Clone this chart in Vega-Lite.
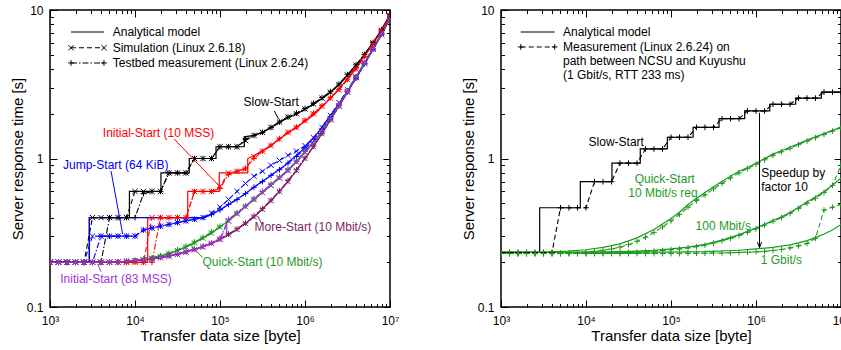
{
"$schema":"https://vega.github.io/schema/vega-lite/v6.json",
"padding":{"left":9,"top":3,"right":0,"bottom":0},
"spacing":60,
"config":{"view":{"stroke":"#000","strokeWidth":1.5},"font":"Liberation Sans",
"axis":{"grid":false,"domain":false,"tickColor":"#000","labelColor":"#000","titleColor":"#000","labelFont":"Liberation Sans","titleFont":"Liberation Sans","titleFontWeight":"normal","tickWidth":1,"labelFontSize":12,"titleFontSize":15}},
"datasets":{
"m":[
{"p":"L","s":"SS","x":1000,"y":0.2},{"p":"L","s":"SS","x":2900,"y":0.2},{"p":"L","s":"SS","x":2901,"y":0.4},{"p":"L","s":"SS","x":8600,"y":0.4},{"p":"L","s":"SS","x":8601,"y":0.6},{"p":"L","s":"SS","x":20200,"y":0.6},{"p":"L","s":"SS","x":20201,"y":0.8},{"p":"L","s":"SS","x":43500,"y":0.8},{"p":"L","s":"SS","x":43501,"y":1.0},{"p":"L","s":"SS","x":89800,"y":1.0},{"p":"L","s":"SS","x":89801,"y":1.2},{"p":"L","s":"SS","x":193000,"y":1.2},{"p":"L","s":"SS","x":193001,"y":1.4},{"p":"L","s":"SS","x":250000,"y":1.43},{"p":"L","s":"SS","x":316000,"y":1.5},{"p":"L","s":"SS","x":398000,"y":1.61},{"p":"L","s":"SS","x":476000,"y":1.72},{"p":"L","s":"SS","x":630000,"y":1.88},{"p":"L","s":"SS","x":800000,"y":2.0},{"p":"L","s":"SS","x":1000000,"y":2.14},{"p":"L","s":"SS","x":1260000,"y":2.32},{"p":"L","s":"SS","x":1580000,"y":2.53},{"p":"L","s":"SS","x":1850000,"y":2.7},{"p":"L","s":"SS","x":2500000,"y":3.12},{"p":"L","s":"SS","x":3180000,"y":3.65},{"p":"L","s":"SS","x":4000000,"y":4.22},{"p":"L","s":"SS","x":5000000,"y":5.0},{"p":"L","s":"SS","x":6300000,"y":6.0},{"p":"L","s":"SS","x":7800000,"y":7.2},{"p":"L","s":"SS","x":10000000,"y":9.3},
{"p":"L","s":"IS10","x":1000,"y":0.2},{"p":"L","s":"IS10","x":14100,"y":0.2},{"p":"L","s":"IS10","x":14101,"y":0.4},{"p":"L","s":"IS10","x":41700,"y":0.4},{"p":"L","s":"IS10","x":41701,"y":0.6},{"p":"L","s":"IS10","x":98000,"y":0.6},{"p":"L","s":"IS10","x":98001,"y":0.8},{"p":"L","s":"IS10","x":212000,"y":0.8},{"p":"L","s":"IS10","x":212001,"y":1.0},{"p":"L","s":"IS10","x":260000,"y":1.06},{"p":"L","s":"IS10","x":364000,"y":1.18},{"p":"L","s":"IS10","x":570000,"y":1.43},{"p":"L","s":"IS10","x":900000,"y":1.7},{"p":"L","s":"IS10","x":1290000,"y":1.98},{"p":"L","s":"IS10","x":2020000,"y":2.56},{"p":"L","s":"IS10","x":2900000,"y":3.24},{"p":"L","s":"IS10","x":4560000,"y":4.6},{"p":"L","s":"IS10","x":7200000,"y":6.68},{"p":"L","s":"IS10","x":10000000,"y":9.2},
{"p":"L","s":"JS","x":1000,"y":0.2},{"p":"L","s":"JS","x":2900,"y":0.2},{"p":"L","s":"JS","x":2901,"y":0.4},{"p":"L","s":"JS","x":65500,"y":0.4},{"p":"L","s":"JS","x":80000,"y":0.42},{"p":"L","s":"JS","x":94000,"y":0.443},{"p":"L","s":"JS","x":120000,"y":0.48},{"p":"L","s":"JS","x":147000,"y":0.518},{"p":"L","s":"JS","x":200000,"y":0.58},{"p":"L","s":"JS","x":232000,"y":0.62},{"p":"L","s":"JS","x":300000,"y":0.69},{"p":"L","s":"JS","x":364000,"y":0.743},{"p":"L","s":"JS","x":450000,"y":0.81},{"p":"L","s":"JS","x":570000,"y":0.89},{"p":"L","s":"JS","x":700000,"y":0.99},{"p":"L","s":"JS","x":900000,"y":1.12},{"p":"L","s":"JS","x":1100000,"y":1.27},{"p":"L","s":"JS","x":1410000,"y":1.49},{"p":"L","s":"JS","x":1850000,"y":1.84},{"p":"L","s":"JS","x":2500000,"y":2.33},{"p":"L","s":"JS","x":3200000,"y":2.85},{"p":"L","s":"JS","x":4000000,"y":3.5},{"p":"L","s":"JS","x":5000000,"y":4.3},{"p":"L","s":"JS","x":6300000,"y":5.4},{"p":"L","s":"JS","x":7900000,"y":6.8},{"p":"L","s":"JS","x":10000000,"y":8.8},
{"p":"L","s":"QS","x":1000,"y":0.2},{"p":"L","s":"QS","x":6310,"y":0.2},{"p":"L","s":"QS","x":10000,"y":0.205},{"p":"L","s":"QS","x":15849,"y":0.213},{"p":"L","s":"QS","x":25119,"y":0.228},{"p":"L","s":"QS","x":39811,"y":0.253},{"p":"L","s":"QS","x":63096,"y":0.29},{"p":"L","s":"QS","x":79433,"y":0.315},{"p":"L","s":"QS","x":100000,"y":0.345},{"p":"L","s":"QS","x":125893,"y":0.38},{"p":"L","s":"QS","x":158489,"y":0.425},{"p":"L","s":"QS","x":199526,"y":0.475},{"p":"L","s":"QS","x":251189,"y":0.53},{"p":"L","s":"QS","x":316228,"y":0.59},{"p":"L","s":"QS","x":398107,"y":0.66},{"p":"L","s":"QS","x":501187,"y":0.74},{"p":"L","s":"QS","x":630957,"y":0.83},{"p":"L","s":"QS","x":794328,"y":0.95},{"p":"L","s":"QS","x":1000000,"y":1.1},{"p":"L","s":"QS","x":1258925,"y":1.28},{"p":"L","s":"QS","x":1584893,"y":1.52},{"p":"L","s":"QS","x":1995262,"y":1.85},{"p":"L","s":"QS","x":2511886,"y":2.27},{"p":"L","s":"QS","x":3162278,"y":2.82},{"p":"L","s":"QS","x":3981072,"y":3.52},{"p":"L","s":"QS","x":5011872,"y":4.37},{"p":"L","s":"QS","x":6309573,"y":5.47},{"p":"L","s":"QS","x":7943282,"y":6.87},{"p":"L","s":"QS","x":10000000,"y":8.75},
{"p":"L","s":"MS","x":1000,"y":0.2},{"p":"L","s":"MS","x":6310,"y":0.2},{"p":"L","s":"MS","x":10000,"y":0.205},{"p":"L","s":"MS","x":15849,"y":0.21},{"p":"L","s":"MS","x":25119,"y":0.22},{"p":"L","s":"MS","x":39811,"y":0.234},{"p":"L","s":"MS","x":63096,"y":0.254},{"p":"L","s":"MS","x":100000,"y":0.285},{"p":"L","s":"MS","x":125893,"y":0.307},{"p":"L","s":"MS","x":158489,"y":0.333},{"p":"L","s":"MS","x":199526,"y":0.365},{"p":"L","s":"MS","x":251189,"y":0.405},{"p":"L","s":"MS","x":316228,"y":0.455},{"p":"L","s":"MS","x":398107,"y":0.52},{"p":"L","s":"MS","x":501187,"y":0.6},{"p":"L","s":"MS","x":630957,"y":0.7},{"p":"L","s":"MS","x":794328,"y":0.83},{"p":"L","s":"MS","x":1000000,"y":1.0},{"p":"L","s":"MS","x":1258925,"y":1.2},{"p":"L","s":"MS","x":1584893,"y":1.47},{"p":"L","s":"MS","x":1995262,"y":1.82},{"p":"L","s":"MS","x":2511886,"y":2.25},{"p":"L","s":"MS","x":3162278,"y":2.8},{"p":"L","s":"MS","x":3981072,"y":3.5},{"p":"L","s":"MS","x":5011872,"y":4.35},{"p":"L","s":"MS","x":6309573,"y":5.45},{"p":"L","s":"MS","x":7943282,"y":6.85},{"p":"L","s":"MS","x":10000000,"y":8.7},
{"p":"L","s":"IS83","x":1000,"y":0.2},{"p":"L","s":"IS83","x":6310,"y":0.2},{"p":"L","s":"IS83","x":10000,"y":0.205},{"p":"L","s":"IS83","x":15849,"y":0.21},{"p":"L","s":"IS83","x":25119,"y":0.22},{"p":"L","s":"IS83","x":39811,"y":0.234},{"p":"L","s":"IS83","x":63096,"y":0.254},{"p":"L","s":"IS83","x":100000,"y":0.285},{"p":"L","s":"IS83","x":120000,"y":0.302},{"p":"L","s":"IS83","x":120100,"y":0.375},{"p":"L","s":"IS83","x":158489,"y":0.425},{"p":"L","s":"IS83","x":199526,"y":0.475},{"p":"L","s":"IS83","x":251189,"y":0.53},{"p":"L","s":"IS83","x":316228,"y":0.59},{"p":"L","s":"IS83","x":398107,"y":0.66},{"p":"L","s":"IS83","x":501187,"y":0.74},{"p":"L","s":"IS83","x":630957,"y":0.83},{"p":"L","s":"IS83","x":794328,"y":0.95},{"p":"L","s":"IS83","x":1000000,"y":1.1},{"p":"L","s":"IS83","x":1258925,"y":1.28},{"p":"L","s":"IS83","x":1584893,"y":1.52},{"p":"L","s":"IS83","x":1995262,"y":1.85},{"p":"L","s":"IS83","x":2511886,"y":2.27},{"p":"L","s":"IS83","x":3162278,"y":2.82},{"p":"L","s":"IS83","x":3981072,"y":3.52},{"p":"L","s":"IS83","x":5011872,"y":4.37},{"p":"L","s":"IS83","x":6309573,"y":5.47},{"p":"L","s":"IS83","x":7943282,"y":6.87},{"p":"L","s":"IS83","x":10000000,"y":8.75},
{"p":"L","s":"LG","x":1766,"y":7.11},{"p":"L","s":"LG","x":4315,"y":7.11},
{"p":"R","s":"LG","x":1707,"y":7.11},{"p":"R","s":"LG","x":4285,"y":7.11},
{"p":"R","s":"SS","x":1000,"y":0.233},{"p":"R","s":"SS","x":2850,"y":0.233},{"p":"R","s":"SS","x":2851,"y":0.466},{"p":"R","s":"SS","x":8570,"y":0.466},{"p":"R","s":"SS","x":8571,"y":0.698},{"p":"R","s":"SS","x":20200,"y":0.698},{"p":"R","s":"SS","x":20201,"y":0.93},{"p":"R","s":"SS","x":43500,"y":0.93},{"p":"R","s":"SS","x":43501,"y":1.16},{"p":"R","s":"SS","x":90600,"y":1.16},{"p":"R","s":"SS","x":90601,"y":1.39},{"p":"R","s":"SS","x":182000,"y":1.39},{"p":"R","s":"SS","x":182001,"y":1.62},{"p":"R","s":"SS","x":367000,"y":1.62},{"p":"R","s":"SS","x":367001,"y":1.855},{"p":"R","s":"SS","x":736000,"y":1.855},{"p":"R","s":"SS","x":736001,"y":2.09},{"p":"R","s":"SS","x":1450000,"y":2.09},{"p":"R","s":"SS","x":1450001,"y":2.32},{"p":"R","s":"SS","x":2930000,"y":2.32},{"p":"R","s":"SS","x":2930001,"y":2.55},{"p":"R","s":"SS","x":5870000,"y":2.55},{"p":"R","s":"SS","x":5870001,"y":2.8},{"p":"R","s":"SS","x":10000000,"y":2.8},
{"p":"R","s":"Q10","x":1000,"y":0.233},{"p":"R","s":"Q10","x":3162,"y":0.234},{"p":"R","s":"Q10","x":6310,"y":0.238},{"p":"R","s":"Q10","x":10000,"y":0.243},{"p":"R","s":"Q10","x":15849,"y":0.252},{"p":"R","s":"Q10","x":25119,"y":0.266},{"p":"R","s":"Q10","x":39811,"y":0.292},{"p":"R","s":"Q10","x":63096,"y":0.333},{"p":"R","s":"Q10","x":100000,"y":0.395},{"p":"R","s":"Q10","x":125893,"y":0.435},{"p":"R","s":"Q10","x":158489,"y":0.49},{"p":"R","s":"Q10","x":199526,"y":0.54},{"p":"R","s":"Q10","x":251189,"y":0.59},{"p":"R","s":"Q10","x":316228,"y":0.645},{"p":"R","s":"Q10","x":398107,"y":0.7},{"p":"R","s":"Q10","x":501187,"y":0.76},{"p":"R","s":"Q10","x":630957,"y":0.82},{"p":"R","s":"Q10","x":794328,"y":0.87},{"p":"R","s":"Q10","x":1000000,"y":0.93},{"p":"R","s":"Q10","x":1584893,"y":1.07},{"p":"R","s":"Q10","x":2511886,"y":1.19},{"p":"R","s":"Q10","x":3981072,"y":1.33},{"p":"R","s":"Q10","x":6309573,"y":1.47},{"p":"R","s":"Q10","x":10000000,"y":1.63},
{"p":"R","s":"Q100","x":1000,"y":0.233},{"p":"R","s":"Q100","x":10000,"y":0.233},{"p":"R","s":"Q100","x":25119,"y":0.236},{"p":"R","s":"Q100","x":39811,"y":0.238},{"p":"R","s":"Q100","x":63096,"y":0.241},{"p":"R","s":"Q100","x":100000,"y":0.246},{"p":"R","s":"Q100","x":158489,"y":0.253},{"p":"R","s":"Q100","x":251189,"y":0.264},{"p":"R","s":"Q100","x":398107,"y":0.282},{"p":"R","s":"Q100","x":630957,"y":0.307},{"p":"R","s":"Q100","x":1000000,"y":0.34},{"p":"R","s":"Q100","x":1258925,"y":0.36},{"p":"R","s":"Q100","x":1584893,"y":0.382},{"p":"R","s":"Q100","x":1995262,"y":0.405},{"p":"R","s":"Q100","x":2511886,"y":0.432},{"p":"R","s":"Q100","x":3162278,"y":0.47},{"p":"R","s":"Q100","x":3981072,"y":0.51},{"p":"R","s":"Q100","x":5011872,"y":0.55},{"p":"R","s":"Q100","x":6309573,"y":0.6},{"p":"R","s":"Q100","x":7943282,"y":0.66},{"p":"R","s":"Q100","x":10000000,"y":0.74},
{"p":"R","s":"Q1G","x":1000,"y":0.233},{"p":"R","s":"Q1G","x":100000,"y":0.234},{"p":"R","s":"Q1G","x":251189,"y":0.236},{"p":"R","s":"Q1G","x":630957,"y":0.241},{"p":"R","s":"Q1G","x":1000000,"y":0.246},{"p":"R","s":"Q1G","x":1584893,"y":0.252},{"p":"R","s":"Q1G","x":1995262,"y":0.257},{"p":"R","s":"Q1G","x":2511886,"y":0.262},{"p":"R","s":"Q1G","x":3162278,"y":0.27},{"p":"R","s":"Q1G","x":3981072,"y":0.28},{"p":"R","s":"Q1G","x":5011872,"y":0.293},{"p":"R","s":"Q1G","x":6309573,"y":0.31},{"p":"R","s":"Q1G","x":7943282,"y":0.33},{"p":"R","s":"Q1G","x":10000000,"y":0.36}
],
"c":[
{"p":"L","s":"SS","x":1000,"a":0.2,"b":0.2},{"p":"L","s":"SS","x":1259,"a":0.2,"b":0.2},{"p":"L","s":"SS","x":1585,"a":0.2,"b":0.2},{"p":"L","s":"SS","x":1995,"a":0.2,"b":0.2},{"p":"L","s":"SS","x":2512,"a":0.2,"b":0.2},{"p":"L","s":"SS","x":3162,"a":0.4,"b":0.2},{"p":"L","s":"SS","x":3981,"a":0.4,"b":0.2},{"p":"L","s":"SS","x":5012,"a":0.4,"b":0.4},{"p":"L","s":"SS","x":6310,"a":0.4,"b":0.4},{"p":"L","s":"SS","x":7943,"a":0.4,"b":0.4},{"p":"L","s":"SS","x":10000,"a":0.6,"b":0.4},{"p":"L","s":"SS","x":12589,"a":0.6,"b":0.58},{"p":"L","s":"SS","x":15849,"a":0.6,"b":0.6},{"p":"L","s":"SS","x":19953,"a":0.6,"b":0.6},{"p":"L","s":"SS","x":25119,"a":0.8,"b":0.8},{"p":"L","s":"SS","x":31623,"a":0.8,"b":0.8},{"p":"L","s":"SS","x":39811,"a":0.8,"b":0.8},{"p":"L","s":"SS","x":50119,"a":1.0,"b":1.0},{"p":"L","s":"SS","x":63096,"a":1.0,"b":1.0},{"p":"L","s":"SS","x":79433,"a":1.0,"b":1.0},{"p":"L","s":"SS","x":100000,"a":1.2,"b":1.2},{"p":"L","s":"SS","x":125893,"a":1.2,"b":1.2},{"p":"L","s":"SS","x":158489,"a":1.2,"b":1.2},{"p":"L","s":"SS","x":199526,"a":1.32,"b":1.35},{"p":"L","s":"SS","x":251189,"a":1.43,"b":1.43},{"p":"L","s":"SS","x":316228,"a":1.5,"b":1.5},{"p":"L","s":"SS","x":398107,"a":1.62,"b":1.62},{"p":"L","s":"SS","x":501187,"a":1.76,"b":1.76},{"p":"L","s":"SS","x":630957,"a":1.9,"b":1.9},{"p":"L","s":"SS","x":794328,"a":2.0,"b":2.02},{"p":"L","s":"SS","x":1000000,"a":2.15,"b":2.17},{"p":"L","s":"SS","x":1258925,"a":2.33,"b":2.35},{"p":"L","s":"SS","x":1584893,"a":2.55,"b":2.57},{"p":"L","s":"SS","x":1995262,"a":2.8,"b":2.82},{"p":"L","s":"SS","x":2511886,"a":3.15,"b":3.17},{"p":"L","s":"SS","x":3162278,"a":3.65,"b":3.67},{"p":"L","s":"SS","x":3981072,"a":4.25,"b":4.27},{"p":"L","s":"SS","x":5011872,"a":5.0,"b":5.02},{"p":"L","s":"SS","x":6309573,"a":6.0,"b":6.05},{"p":"L","s":"SS","x":7943282,"a":7.3,"b":7.35},{"p":"L","s":"SS","x":10000000,"a":9.2,"b":9.3},
{"p":"L","s":"IS10","x":1000,"a":0.2,"b":0.2},{"p":"L","s":"IS10","x":1259,"a":0.2,"b":0.2},{"p":"L","s":"IS10","x":1585,"a":0.2,"b":0.2},{"p":"L","s":"IS10","x":1995,"a":0.2,"b":0.2},{"p":"L","s":"IS10","x":2512,"a":0.2,"b":0.2},{"p":"L","s":"IS10","x":3162,"a":0.2,"b":0.2},{"p":"L","s":"IS10","x":3981,"a":0.2,"b":0.2},{"p":"L","s":"IS10","x":5012,"a":0.2,"b":0.2},{"p":"L","s":"IS10","x":6310,"a":0.2,"b":0.2},{"p":"L","s":"IS10","x":7943,"a":0.2,"b":0.2},{"p":"L","s":"IS10","x":10000,"a":0.2,"b":0.2},{"p":"L","s":"IS10","x":12589,"a":0.2,"b":0.2},{"p":"L","s":"IS10","x":15849,"a":0.4,"b":0.2},{"p":"L","s":"IS10","x":19953,"a":0.4,"b":0.4},{"p":"L","s":"IS10","x":25119,"a":0.4,"b":0.4},{"p":"L","s":"IS10","x":31623,"a":0.4,"b":0.4},{"p":"L","s":"IS10","x":39811,"a":0.4,"b":0.4},{"p":"L","s":"IS10","x":50119,"a":0.6,"b":0.6},{"p":"L","s":"IS10","x":63096,"a":0.6,"b":0.6},{"p":"L","s":"IS10","x":79433,"a":0.6,"b":0.6},{"p":"L","s":"IS10","x":100000,"a":0.65,"b":0.63},{"p":"L","s":"IS10","x":125893,"a":0.8,"b":0.78},{"p":"L","s":"IS10","x":158489,"a":0.82,"b":0.82},{"p":"L","s":"IS10","x":199526,"a":0.85,"b":0.86},{"p":"L","s":"IS10","x":251189,"a":1.03,"b":1.0},{"p":"L","s":"IS10","x":316228,"a":1.12,"b":1.12},{"p":"L","s":"IS10","x":398107,"a":1.22,"b":1.23},{"p":"L","s":"IS10","x":501187,"a":1.35,"b":1.36},{"p":"L","s":"IS10","x":630957,"a":1.5,"b":1.5},{"p":"L","s":"IS10","x":794328,"a":1.62,"b":1.63},{"p":"L","s":"IS10","x":1000000,"a":1.8,"b":1.81},{"p":"L","s":"IS10","x":1258925,"a":2.0,"b":2.02},{"p":"L","s":"IS10","x":1584893,"a":2.25,"b":2.27},{"p":"L","s":"IS10","x":1995262,"a":2.55,"b":2.57},{"p":"L","s":"IS10","x":2511886,"a":2.9,"b":2.92},{"p":"L","s":"IS10","x":3162278,"a":3.4,"b":3.42},{"p":"L","s":"IS10","x":3981072,"a":4.0,"b":4.02},{"p":"L","s":"IS10","x":5011872,"a":4.85,"b":4.87},{"p":"L","s":"IS10","x":6309573,"a":5.9,"b":5.92},{"p":"L","s":"IS10","x":7943282,"a":7.2,"b":7.22},{"p":"L","s":"IS10","x":10000000,"a":9.1,"b":9.15},
{"p":"L","s":"JS","x":1000,"a":0.2,"b":0.2},{"p":"L","s":"JS","x":1259,"a":0.2,"b":0.2},{"p":"L","s":"JS","x":1585,"a":0.2,"b":0.2},{"p":"L","s":"JS","x":1995,"a":0.2,"b":0.2},{"p":"L","s":"JS","x":2512,"a":0.2,"b":0.2},{"p":"L","s":"JS","x":3162,"a":0.3,"b":0.2},{"p":"L","s":"JS","x":3981,"a":0.3,"b":0.3},{"p":"L","s":"JS","x":5012,"a":0.3,"b":0.3},{"p":"L","s":"JS","x":6310,"a":0.3,"b":0.3},{"p":"L","s":"JS","x":7943,"a":0.3,"b":0.3},{"p":"L","s":"JS","x":10000,"a":0.3,"b":0.3},{"p":"L","s":"JS","x":12589,"a":0.33,"b":0.33},{"p":"L","s":"JS","x":15849,"a":0.34,"b":0.34},{"p":"L","s":"JS","x":19953,"a":0.35,"b":0.35},{"p":"L","s":"JS","x":25119,"a":0.36,"b":0.36},{"p":"L","s":"JS","x":31623,"a":0.37,"b":0.37},{"p":"L","s":"JS","x":39811,"a":0.38,"b":0.38},{"p":"L","s":"JS","x":50119,"a":0.39,"b":0.39},{"p":"L","s":"JS","x":63096,"a":0.4,"b":0.4},{"p":"L","s":"JS","x":79433,"a":0.43,"b":0.42},{"p":"L","s":"JS","x":100000,"a":0.47,"b":0.45},{"p":"L","s":"JS","x":125893,"a":0.53,"b":0.49},{"p":"L","s":"JS","x":158489,"a":0.6,"b":0.53},{"p":"L","s":"JS","x":199526,"a":0.68,"b":0.58},{"p":"L","s":"JS","x":251189,"a":0.76,"b":0.64},{"p":"L","s":"JS","x":316228,"a":0.82,"b":0.7},{"p":"L","s":"JS","x":398107,"a":0.9,"b":0.77},{"p":"L","s":"JS","x":501187,"a":0.97,"b":0.84},{"p":"L","s":"JS","x":630957,"a":1.05,"b":0.93},{"p":"L","s":"JS","x":794328,"a":1.12,"b":1.03},{"p":"L","s":"JS","x":1000000,"a":1.22,"b":1.16},{"p":"L","s":"JS","x":1258925,"a":1.38,"b":1.34},{"p":"L","s":"JS","x":1584893,"a":1.62,"b":1.58},{"p":"L","s":"JS","x":1995262,"a":1.95,"b":1.9},{"p":"L","s":"JS","x":2511886,"a":2.38,"b":2.3},{"p":"L","s":"JS","x":3162278,"a":2.9,"b":2.82},{"p":"L","s":"JS","x":3981072,"a":3.55,"b":3.47},{"p":"L","s":"JS","x":5011872,"a":4.45,"b":4.35},{"p":"L","s":"JS","x":6309573,"a":5.55,"b":5.45},{"p":"L","s":"JS","x":7943282,"a":6.95,"b":6.85},{"p":"L","s":"JS","x":10000000,"a":8.9,"b":8.8},
{"p":"L","s":"QS","x":1000,"a":0.2,"b":0.2},{"p":"L","s":"QS","x":1259,"a":0.2,"b":0.2},{"p":"L","s":"QS","x":1585,"a":0.2,"b":0.2},{"p":"L","s":"QS","x":1995,"a":0.2,"b":0.2},{"p":"L","s":"QS","x":2512,"a":0.2,"b":0.2},{"p":"L","s":"QS","x":3162,"a":0.2,"b":0.2},{"p":"L","s":"QS","x":3981,"a":0.2,"b":0.2},{"p":"L","s":"QS","x":5012,"a":0.2,"b":0.2},{"p":"L","s":"QS","x":6310,"a":0.201,"b":0.201},{"p":"L","s":"QS","x":7943,"a":0.203,"b":0.203},{"p":"L","s":"QS","x":10000,"a":0.205,"b":0.206},{"p":"L","s":"QS","x":12589,"a":0.208,"b":0.21},{"p":"L","s":"QS","x":15849,"a":0.213,"b":0.215},{"p":"L","s":"QS","x":19953,"a":0.22,"b":0.222},{"p":"L","s":"QS","x":25119,"a":0.228,"b":0.231},{"p":"L","s":"QS","x":31623,"a":0.24,"b":0.243},{"p":"L","s":"QS","x":39811,"a":0.253,"b":0.257},{"p":"L","s":"QS","x":50119,"a":0.27,"b":0.274},{"p":"L","s":"QS","x":63096,"a":0.29,"b":0.295},{"p":"L","s":"QS","x":79433,"a":0.315,"b":0.32},{"p":"L","s":"QS","x":100000,"a":0.345,"b":0.35},{"p":"L","s":"QS","x":125893,"a":0.38,"b":0.386},{"p":"L","s":"QS","x":158489,"a":0.425,"b":0.43},{"p":"L","s":"QS","x":199526,"a":0.475,"b":0.48},{"p":"L","s":"QS","x":251189,"a":0.53,"b":0.535},{"p":"L","s":"QS","x":316228,"a":0.59,"b":0.6},{"p":"L","s":"QS","x":398107,"a":0.66,"b":0.67},{"p":"L","s":"QS","x":501187,"a":0.74,"b":0.75},{"p":"L","s":"QS","x":630957,"a":0.83,"b":0.84},{"p":"L","s":"QS","x":794328,"a":0.95,"b":0.96},{"p":"L","s":"QS","x":1000000,"a":1.1,"b":1.12},{"p":"L","s":"QS","x":1258925,"a":1.28,"b":1.3},{"p":"L","s":"QS","x":1584893,"a":1.52,"b":1.54},{"p":"L","s":"QS","x":1995262,"a":1.85,"b":1.87},{"p":"L","s":"QS","x":2511886,"a":2.27,"b":2.3},{"p":"L","s":"QS","x":3162278,"a":2.82,"b":2.85},{"p":"L","s":"QS","x":3981072,"a":3.52,"b":3.55},{"p":"L","s":"QS","x":5011872,"a":4.37,"b":4.4},{"p":"L","s":"QS","x":6309573,"a":5.47,"b":5.5},{"p":"L","s":"QS","x":7943282,"a":6.87,"b":6.9},{"p":"L","s":"QS","x":10000000,"a":8.75,"b":8.8},
{"p":"L","s":"MS","x":1000,"a":0.2,"b":0.2},{"p":"L","s":"MS","x":1259,"a":0.2,"b":0.2},{"p":"L","s":"MS","x":1585,"a":0.2,"b":0.2},{"p":"L","s":"MS","x":1995,"a":0.2,"b":0.2},{"p":"L","s":"MS","x":2512,"a":0.2,"b":0.2},{"p":"L","s":"MS","x":3162,"a":0.2,"b":0.2},{"p":"L","s":"MS","x":3981,"a":0.2,"b":0.2},{"p":"L","s":"MS","x":5012,"a":0.2,"b":0.2},{"p":"L","s":"MS","x":6310,"a":0.201,"b":0.201},{"p":"L","s":"MS","x":7943,"a":0.203,"b":0.203},{"p":"L","s":"MS","x":10000,"a":0.205,"b":0.205},{"p":"L","s":"MS","x":12589,"a":0.207,"b":0.208},{"p":"L","s":"MS","x":15849,"a":0.21,"b":0.211},{"p":"L","s":"MS","x":19953,"a":0.215,"b":0.216},{"p":"L","s":"MS","x":25119,"a":0.22,"b":0.222},{"p":"L","s":"MS","x":31623,"a":0.226,"b":0.228},{"p":"L","s":"MS","x":39811,"a":0.234,"b":0.236},{"p":"L","s":"MS","x":50119,"a":0.243,"b":0.245},{"p":"L","s":"MS","x":63096,"a":0.254,"b":0.256},{"p":"L","s":"MS","x":79433,"a":0.268,"b":0.27},{"p":"L","s":"MS","x":100000,"a":0.285,"b":0.288},{"p":"L","s":"MS","x":125893,"a":0.307,"b":0.31},{"p":"L","s":"MS","x":158489,"a":0.333,"b":0.336},{"p":"L","s":"MS","x":199526,"a":0.365,"b":0.368},{"p":"L","s":"MS","x":251189,"a":0.405,"b":0.41},{"p":"L","s":"MS","x":316228,"a":0.455,"b":0.46},{"p":"L","s":"MS","x":398107,"a":0.52,"b":0.525},{"p":"L","s":"MS","x":501187,"a":0.6,"b":0.605},{"p":"L","s":"MS","x":630957,"a":0.7,"b":0.71},{"p":"L","s":"MS","x":794328,"a":0.83,"b":0.84},{"p":"L","s":"MS","x":1000000,"a":1.0,"b":1.01},{"p":"L","s":"MS","x":1258925,"a":1.2,"b":1.21},{"p":"L","s":"MS","x":1584893,"a":1.47,"b":1.48},{"p":"L","s":"MS","x":1995262,"a":1.82,"b":1.83},{"p":"L","s":"MS","x":2511886,"a":2.25,"b":2.27},{"p":"L","s":"MS","x":3162278,"a":2.8,"b":2.82},{"p":"L","s":"MS","x":3981072,"a":3.5,"b":3.52},{"p":"L","s":"MS","x":5011872,"a":4.35,"b":4.37},{"p":"L","s":"MS","x":6309573,"a":5.45,"b":5.47},{"p":"L","s":"MS","x":7943282,"a":6.85,"b":6.87},{"p":"L","s":"MS","x":10000000,"a":8.7,"b":8.72},
{"p":"L","s":"IS83","x":1000,"a":0.2,"b":0.2},{"p":"L","s":"IS83","x":1259,"a":0.2,"b":0.2},{"p":"L","s":"IS83","x":1585,"a":0.2,"b":0.2},{"p":"L","s":"IS83","x":1995,"a":0.2,"b":0.2},{"p":"L","s":"IS83","x":2512,"a":0.2,"b":0.2},{"p":"L","s":"IS83","x":3162,"a":0.2,"b":0.2},{"p":"L","s":"IS83","x":3981,"a":0.2,"b":0.2},{"p":"L","s":"IS83","x":5012,"a":0.2,"b":0.2},{"p":"L","s":"IS83","x":6310,"a":0.201,"b":0.201},{"p":"L","s":"IS83","x":7943,"a":0.203,"b":0.203},{"p":"L","s":"IS83","x":10000,"a":0.205,"b":0.205},{"p":"L","s":"IS83","x":12589,"a":0.207,"b":0.208},{"p":"L","s":"IS83","x":15849,"a":0.21,"b":0.211},{"p":"L","s":"IS83","x":19953,"a":0.215,"b":0.216},{"p":"L","s":"IS83","x":25119,"a":0.22,"b":0.222},{"p":"L","s":"IS83","x":31623,"a":0.226,"b":0.228},{"p":"L","s":"IS83","x":39811,"a":0.234,"b":0.236},{"p":"L","s":"IS83","x":50119,"a":0.243,"b":0.245},{"p":"L","s":"IS83","x":63096,"a":0.254,"b":0.256},{"p":"L","s":"IS83","x":79433,"a":0.268,"b":0.27},{"p":"L","s":"IS83","x":100000,"a":0.285,"b":0.29},{"p":"L","s":"IS83","x":125893,"a":0.38,"b":0.39},{"p":"L","s":"IS83","x":158489,"a":0.425,"b":0.43},{"p":"L","s":"IS83","x":199526,"a":0.475,"b":0.48},{"p":"L","s":"IS83","x":251189,"a":0.53,"b":0.535},{"p":"L","s":"IS83","x":316228,"a":0.59,"b":0.6},{"p":"L","s":"IS83","x":398107,"a":0.66,"b":0.67},{"p":"L","s":"IS83","x":501187,"a":0.74,"b":0.75},{"p":"L","s":"IS83","x":630957,"a":0.83,"b":0.84},{"p":"L","s":"IS83","x":794328,"a":0.95,"b":0.96},{"p":"L","s":"IS83","x":1000000,"a":1.1,"b":1.12},{"p":"L","s":"IS83","x":1258925,"a":1.28,"b":1.3},{"p":"L","s":"IS83","x":1584893,"a":1.52,"b":1.54},{"p":"L","s":"IS83","x":1995262,"a":1.85,"b":1.87},{"p":"L","s":"IS83","x":2511886,"a":2.27,"b":2.3},{"p":"L","s":"IS83","x":3162278,"a":2.82,"b":2.85},{"p":"L","s":"IS83","x":3981072,"a":3.52,"b":3.55},{"p":"L","s":"IS83","x":5011872,"a":4.37,"b":4.4},{"p":"L","s":"IS83","x":6309573,"a":5.47,"b":5.5},{"p":"L","s":"IS83","x":7943282,"a":6.87,"b":6.9},{"p":"L","s":"IS83","x":10000000,"a":8.75,"b":8.8},
{"p":"L","s":"LG1","x":1766,"a":5.57},{"p":"L","s":"LG1","x":4315,"a":5.57},{"p":"L","s":"LG2","x":1766,"b":4.4},{"p":"L","s":"LG2","x":4315,"b":4.4},
{"p":"R","s":"LG2","x":1707,"b":5.64},{"p":"R","s":"LG2","x":4285,"b":5.64},
{"p":"R","s":"SS","x":1000,"b":0.233},{"p":"R","s":"SS","x":1259,"b":0.233},{"p":"R","s":"SS","x":1585,"b":0.233},{"p":"R","s":"SS","x":1995,"b":0.233},{"p":"R","s":"SS","x":2512,"b":0.233},{"p":"R","s":"SS","x":3162,"b":0.233},{"p":"R","s":"SS","x":3981,"b":0.233},{"p":"R","s":"SS","x":5012,"b":0.466},{"p":"R","s":"SS","x":6310,"b":0.466},{"p":"R","s":"SS","x":7943,"b":0.466},{"p":"R","s":"SS","x":10000,"b":0.466},{"p":"R","s":"SS","x":12589,"b":0.698},{"p":"R","s":"SS","x":15849,"b":0.698},{"p":"R","s":"SS","x":19953,"b":0.698},{"p":"R","s":"SS","x":25119,"b":0.93},{"p":"R","s":"SS","x":31623,"b":0.93},{"p":"R","s":"SS","x":39811,"b":0.93},{"p":"R","s":"SS","x":50119,"b":1.16},{"p":"R","s":"SS","x":63096,"b":1.16},{"p":"R","s":"SS","x":79433,"b":1.16},{"p":"R","s":"SS","x":100000,"b":1.39},{"p":"R","s":"SS","x":125893,"b":1.39},{"p":"R","s":"SS","x":158489,"b":1.39},{"p":"R","s":"SS","x":199526,"b":1.62},{"p":"R","s":"SS","x":251189,"b":1.62},{"p":"R","s":"SS","x":316228,"b":1.62},{"p":"R","s":"SS","x":398107,"b":1.855},{"p":"R","s":"SS","x":501187,"b":1.855},{"p":"R","s":"SS","x":630957,"b":1.855},{"p":"R","s":"SS","x":794328,"b":2.09},{"p":"R","s":"SS","x":1000000,"b":2.09},{"p":"R","s":"SS","x":1258925,"b":2.09},{"p":"R","s":"SS","x":1584893,"b":2.32},{"p":"R","s":"SS","x":1995262,"b":2.32},{"p":"R","s":"SS","x":2511886,"b":2.32},{"p":"R","s":"SS","x":3162278,"b":2.55},{"p":"R","s":"SS","x":3981072,"b":2.55},{"p":"R","s":"SS","x":5011872,"b":2.55},{"p":"R","s":"SS","x":6309573,"b":2.8},{"p":"R","s":"SS","x":7943282,"b":2.8},{"p":"R","s":"SS","x":10000000,"b":2.8},
{"p":"R","s":"Q10","x":1000,"b":0.229},{"p":"R","s":"Q10","x":1259,"b":0.229},{"p":"R","s":"Q10","x":1585,"b":0.229},{"p":"R","s":"Q10","x":1995,"b":0.229},{"p":"R","s":"Q10","x":2512,"b":0.229},{"p":"R","s":"Q10","x":3162,"b":0.229},{"p":"R","s":"Q10","x":3981,"b":0.23},{"p":"R","s":"Q10","x":5012,"b":0.23},{"p":"R","s":"Q10","x":6310,"b":0.231},{"p":"R","s":"Q10","x":7943,"b":0.232},{"p":"R","s":"Q10","x":10000,"b":0.234},{"p":"R","s":"Q10","x":12589,"b":0.237},{"p":"R","s":"Q10","x":15849,"b":0.241},{"p":"R","s":"Q10","x":19953,"b":0.246},{"p":"R","s":"Q10","x":25119,"b":0.253},{"p":"R","s":"Q10","x":31623,"b":0.263},{"p":"R","s":"Q10","x":39811,"b":0.277},{"p":"R","s":"Q10","x":50119,"b":0.295},{"p":"R","s":"Q10","x":63096,"b":0.318},{"p":"R","s":"Q10","x":79433,"b":0.346},{"p":"R","s":"Q10","x":100000,"b":0.38},{"p":"R","s":"Q10","x":125893,"b":0.42},{"p":"R","s":"Q10","x":158489,"b":0.47},{"p":"R","s":"Q10","x":199526,"b":0.52},{"p":"R","s":"Q10","x":251189,"b":0.57},{"p":"R","s":"Q10","x":316228,"b":0.625},{"p":"R","s":"Q10","x":398107,"b":0.68},{"p":"R","s":"Q10","x":501187,"b":0.74},{"p":"R","s":"Q10","x":630957,"b":0.8},{"p":"R","s":"Q10","x":794328,"b":0.855},{"p":"R","s":"Q10","x":1000000,"b":0.915},{"p":"R","s":"Q10","x":1258925,"b":0.98},{"p":"R","s":"Q10","x":1584893,"b":1.05},{"p":"R","s":"Q10","x":1995262,"b":1.11},{"p":"R","s":"Q10","x":2511886,"b":1.17},{"p":"R","s":"Q10","x":3162278,"b":1.24},{"p":"R","s":"Q10","x":3981072,"b":1.31},{"p":"R","s":"Q10","x":5011872,"b":1.38},{"p":"R","s":"Q10","x":6309573,"b":1.45},{"p":"R","s":"Q10","x":7943282,"b":1.53},{"p":"R","s":"Q10","x":10000000,"b":1.61},
{"p":"R","s":"Q100","x":1000,"b":0.229},{"p":"R","s":"Q100","x":1259,"b":0.229},{"p":"R","s":"Q100","x":1585,"b":0.229},{"p":"R","s":"Q100","x":1995,"b":0.229},{"p":"R","s":"Q100","x":2512,"b":0.229},{"p":"R","s":"Q100","x":3162,"b":0.229},{"p":"R","s":"Q100","x":3981,"b":0.229},{"p":"R","s":"Q100","x":5012,"b":0.229},{"p":"R","s":"Q100","x":6310,"b":0.229},{"p":"R","s":"Q100","x":7943,"b":0.229},{"p":"R","s":"Q100","x":10000,"b":0.229},{"p":"R","s":"Q100","x":12589,"b":0.23},{"p":"R","s":"Q100","x":15849,"b":0.23},{"p":"R","s":"Q100","x":19953,"b":0.231},{"p":"R","s":"Q100","x":25119,"b":0.232},{"p":"R","s":"Q100","x":31623,"b":0.233},{"p":"R","s":"Q100","x":39811,"b":0.234},{"p":"R","s":"Q100","x":50119,"b":0.236},{"p":"R","s":"Q100","x":63096,"b":0.238},{"p":"R","s":"Q100","x":79433,"b":0.24},{"p":"R","s":"Q100","x":100000,"b":0.243},{"p":"R","s":"Q100","x":125893,"b":0.246},{"p":"R","s":"Q100","x":158489,"b":0.25},{"p":"R","s":"Q100","x":199526,"b":0.255},{"p":"R","s":"Q100","x":251189,"b":0.261},{"p":"R","s":"Q100","x":316228,"b":0.269},{"p":"R","s":"Q100","x":398107,"b":0.279},{"p":"R","s":"Q100","x":501187,"b":0.29},{"p":"R","s":"Q100","x":630957,"b":0.303},{"p":"R","s":"Q100","x":794328,"b":0.318},{"p":"R","s":"Q100","x":1000000,"b":0.336},{"p":"R","s":"Q100","x":1258925,"b":0.356},{"p":"R","s":"Q100","x":1584893,"b":0.378},{"p":"R","s":"Q100","x":1995262,"b":0.4},{"p":"R","s":"Q100","x":2511886,"b":0.427},{"p":"R","s":"Q100","x":3162278,"b":0.46},{"p":"R","s":"Q100","x":3981072,"b":0.5},{"p":"R","s":"Q100","x":5011872,"b":0.54},{"p":"R","s":"Q100","x":6309573,"b":0.59},{"p":"R","s":"Q100","x":7943282,"b":0.66},{"p":"R","s":"Q100","x":10000000,"b":0.9},
{"p":"R","s":"Q1G","x":1000,"b":0.229},{"p":"R","s":"Q1G","x":1259,"b":0.229},{"p":"R","s":"Q1G","x":1585,"b":0.229},{"p":"R","s":"Q1G","x":1995,"b":0.229},{"p":"R","s":"Q1G","x":2512,"b":0.229},{"p":"R","s":"Q1G","x":3162,"b":0.229},{"p":"R","s":"Q1G","x":3981,"b":0.229},{"p":"R","s":"Q1G","x":5012,"b":0.229},{"p":"R","s":"Q1G","x":6310,"b":0.229},{"p":"R","s":"Q1G","x":7943,"b":0.229},{"p":"R","s":"Q1G","x":10000,"b":0.229},{"p":"R","s":"Q1G","x":12589,"b":0.229},{"p":"R","s":"Q1G","x":15849,"b":0.229},{"p":"R","s":"Q1G","x":19953,"b":0.229},{"p":"R","s":"Q1G","x":25119,"b":0.229},{"p":"R","s":"Q1G","x":31623,"b":0.229},{"p":"R","s":"Q1G","x":39811,"b":0.229},{"p":"R","s":"Q1G","x":50119,"b":0.229},{"p":"R","s":"Q1G","x":63096,"b":0.229},{"p":"R","s":"Q1G","x":79433,"b":0.229},{"p":"R","s":"Q1G","x":100000,"b":0.229},{"p":"R","s":"Q1G","x":125893,"b":0.229},{"p":"R","s":"Q1G","x":158489,"b":0.23},{"p":"R","s":"Q1G","x":199526,"b":0.23},{"p":"R","s":"Q1G","x":251189,"b":0.23},{"p":"R","s":"Q1G","x":316228,"b":0.231},{"p":"R","s":"Q1G","x":398107,"b":0.231},{"p":"R","s":"Q1G","x":501187,"b":0.232},{"p":"R","s":"Q1G","x":630957,"b":0.233},{"p":"R","s":"Q1G","x":794328,"b":0.234},{"p":"R","s":"Q1G","x":1000000,"b":0.235},{"p":"R","s":"Q1G","x":1258925,"b":0.237},{"p":"R","s":"Q1G","x":1584893,"b":0.24},{"p":"R","s":"Q1G","x":1995262,"b":0.244},{"p":"R","s":"Q1G","x":2511886,"b":0.25},{"p":"R","s":"Q1G","x":3162278,"b":0.258},{"p":"R","s":"Q1G","x":3981072,"b":0.268},{"p":"R","s":"Q1G","x":5011872,"b":0.29},{"p":"R","s":"Q1G","x":6309573,"b":0.45},{"p":"R","s":"Q1G","x":7943282,"b":0.47},{"p":"R","s":"Q1G","x":10000000,"b":0.49}
],
"t":[
{"p":"L","g":"l","s":"LG","x":5466,"y":7.11,"t":"Analytical model"},
{"p":"L","g":"l","s":"LG","x":5466,"y":5.57,"t":"Simulation (Linux 2.6.18)"},
{"p":"L","g":"l","s":"LG","x":5466,"y":4.4,"t":"Testbed measurement (Linux 2.6.24)"},
{"p":"L","g":"c","s":"SS","x":400000,"y":2.41,"t":"Slow-Start"},
{"p":"L","g":"c","s":"IS10","x":18900,"y":1.485,"t":"Initial-Start (10 MSS)"},
{"p":"L","g":"c","s":"JS","x":5930,"y":0.904,"t":"Jump-Start (64 KiB)"},
{"p":"L","g":"c","s":"MS","x":1240000,"y":0.346,"t":"More-Start (10 Mbit/s)"},
{"p":"L","g":"c","s":"QS","x":316000,"y":0.2018,"t":"Quick-Start (10 Mbit/s)"},
{"p":"L","g":"c","s":"IS83","x":5970,"y":0.155,"t":"Initial-Start (83 MSS)"},
{"p":"R","g":"l","s":"LG","x":5360,"y":7.11,"t":"Analytical model"},
{"p":"R","g":"l","s":"LG","x":5360,"y":5.64,"t":"Measurement (Linux 2.6.24) on"},
{"p":"R","g":"l","s":"LG","x":5360,"y":4.51,"t":"path between NCSU and Kuyushu"},
{"p":"R","g":"l","s":"LG","x":5360,"y":3.67,"t":"(1 Gbit/s, RTT 233 ms)"},
{"p":"R","g":"l","s":"SS","x":1150000,"y":0.8,"t":"Speedup by"},
{"p":"R","g":"l","s":"SS","x":1150000,"y":0.645,"t":"factor 10"},
{"p":"R","g":"c","s":"SS","x":22700,"y":1.3,"t":"Slow-Start"},
{"p":"R","g":"c","s":"Q10","x":84300,"y":0.728,"t":"Quick-Start"},
{"p":"R","g":"c","s":"Q10","x":84300,"y":0.588,"t":"10 Mbit/s req."},
{"p":"R","g":"c","s":"Q100","x":412000,"y":0.351,"t":"100 Mbit/s"},
{"p":"R","g":"c","s":"Q1G","x":1990000,"y":0.207,"t":"1 Gbit/s"}
],
"r":[
{"p":"L","s":"SS","x":435000,"y":2.09,"x2":490000,"y2":1.84},
{"p":"L","s":"IS10","x":29000,"y":1.35,"x2":98000,"y2":0.653},
{"p":"L","s":"JS","x":5220,"y":0.824,"x2":7160,"y2":0.309},
{"p":"L","s":"MS","x":277000,"y":0.41,"x2":309000,"y2":0.364},
{"p":"L","s":"QS","x":44800,"y":0.264,"x2":62500,"y2":0.215},
{"p":"L","s":"IS83","x":3640,"y":0.194,"x2":3980,"y2":0.173},
{"p":"R","s":"SS","x":1100000,"y":2.03,"x2":1100000,"y2":0.251}
],
"ah":[{"p":"R","s":"SS","x":1100000,"y":0.251}]
},
"hconcat":[
{"width":340,"height":297,
"resolve":{"axis":{"x":"independent","y":"independent"}},
"layer":[
{"data":{"values":[{"x":1000,"y":1}]},"mark":{"type":"point","opacity":0},
"encoding":{"x":{"field":"x","type":"quantitative","scale":{"type":"log","domain":[1000,10000000],"nice":false},"axis":{"orient":"bottom","values":[1000,10000,100000,1000000,10000000],"ticks":false,"labelFlush":false,"labelPadding":8,"labelExpr":"datum.value < 2000 ? '10³' : datum.value < 20000 ? '10⁴' : datum.value < 200000 ? '10⁵' : datum.value < 2000000 ? '10⁶' : '10⁷'","title":"Transfer data size [byte]","titlePadding":2}},
"y":{"field":"y","type":"quantitative","scale":{"type":"log","domain":[0.1,10],"nice":false},"axis":{"orient":"left","values":[0.1,1,10],"ticks":false,"labelPadding":7,"labelExpr":"datum.value < 0.5 ? '0.1' : datum.value < 5 ? '1' : '10'","title":"Server response time [s]","titlePadding":1}}}},
{"data":{"values":[{"x":1000,"y":1}]},"mark":{"type":"point","opacity":0},
"encoding":{"x":{"field":"x","type":"quantitative","scale":{"type":"log","domain":[1000,10000000],"nice":false},"axis":{"orient":"bottom","values":[1000,10000,100000,1000000,10000000],"labels":false,"tickSize":-7,"title":null}},
"y":{"field":"y","type":"quantitative","scale":{"type":"log","domain":[0.1,10],"nice":false},"axis":{"orient":"left","values":[0.1,1,10],"labels":false,"tickSize":-7,"title":null}}}},
{"data":{"values":[{"x":1000,"y":1}]},"mark":{"type":"point","opacity":0},
"encoding":{"x":{"field":"x","type":"quantitative","scale":{"type":"log","domain":[1000,10000000],"nice":false},"axis":{"orient":"bottom","values":[2000,3000,4000,5000,6000,7000,8000,9000,20000,30000,40000,50000,60000,70000,80000,90000,200000,300000,400000,500000,600000,700000,800000,900000,2000000,3000000,4000000,5000000,6000000,7000000,8000000,9000000],"labels":false,"tickSize":-3.5,"title":null}},
"y":{"field":"y","type":"quantitative","scale":{"type":"log","domain":[0.1,10],"nice":false},"axis":{"orient":"left","values":[0.2,0.3,0.4,0.5,0.6,0.7,0.8,0.9,2,3,4,5,6,7,8,9],"labels":false,"tickSize":-3.5,"title":null}}}},
{"data":{"values":[{"x":1000,"y":1}]},"mark":{"type":"point","opacity":0},
"encoding":{"x":{"field":"x","type":"quantitative","scale":{"type":"log","domain":[1000,10000000],"nice":false},"axis":{"orient":"top","values":[1000,10000,100000,1000000,10000000],"labels":false,"tickSize":-7,"title":null}},
"y":{"field":"y","type":"quantitative","scale":{"type":"log","domain":[0.1,10],"nice":false},"axis":{"orient":"right","values":[0.1,1,10],"labels":false,"tickSize":-7,"title":null}}}},
{"data":{"values":[{"x":1000,"y":1}]},"mark":{"type":"point","opacity":0},
"encoding":{"x":{"field":"x","type":"quantitative","scale":{"type":"log","domain":[1000,10000000],"nice":false},"axis":{"orient":"top","values":[2000,3000,4000,5000,6000,7000,8000,9000,20000,30000,40000,50000,60000,70000,80000,90000,200000,300000,400000,500000,600000,700000,800000,900000,2000000,3000000,4000000,5000000,6000000,7000000,8000000,9000000],"labels":false,"tickSize":-3.5,"title":null}},
"y":{"field":"y","type":"quantitative","scale":{"type":"log","domain":[0.1,10],"nice":false},"axis":{"orient":"right","values":[0.2,0.3,0.4,0.5,0.6,0.7,0.8,0.9,2,3,4,5,6,7,8,9],"labels":false,"tickSize":-3.5,"title":null}}}},
{"data":{"name":"m"},"transform":[{"filter":"datum.p == 'L'"}],"mark":{"type":"line","strokeWidth":1.2,"clip":true},
"encoding":{"x":{"field":"x","type":"quantitative","axis":null},"y":{"field":"y","type":"quantitative","axis":null},"color":{"field":"s","type":"nominal","legend":null,"scale":{"domain":["SS","IS10","JS","QS","MS","IS83","LG","LG1","LG2","Q10","Q100","Q1G"],"range":["#000000","#ff0000","#0000ff","#1f9a1f","#7b1f66","#a034d8","#000000","#000000","#000000","#1f9a1f","#1f9a1f","#1f9a1f"]}}}},
{"data":{"name":"c"},"transform":[{"filter":"datum.p == 'L' && isValid(datum.a)"}],"mark":{"type":"line","strokeWidth":1.1,"strokeDash":[5,3],"clip":true},
"encoding":{"x":{"field":"x","type":"quantitative","axis":null},"y":{"field":"a","type":"quantitative","axis":null},"color":{"field":"s","type":"nominal","legend":null}}},
{"data":{"name":"c"},"transform":[{"filter":"datum.p == 'L' && isValid(datum.a)"}],"mark":{"type":"point","shape":"M-1,-1L1,1M-1,1L1,-1","size":28,"strokeWidth":1,"filled":false,"opacity":1,"clip":true},
"encoding":{"x":{"field":"x","type":"quantitative","axis":null},"y":{"field":"a","type":"quantitative","axis":null},"color":{"field":"s","type":"nominal","legend":null}}},
{"data":{"name":"c"},"transform":[{"filter":"datum.p == 'L' && isValid(datum.b)"}],"mark":{"type":"line","strokeWidth":1.1,"strokeDash":[6,2,1.5,2],"clip":true},
"encoding":{"x":{"field":"x","type":"quantitative","axis":null},"y":{"field":"b","type":"quantitative","axis":null},"color":{"field":"s","type":"nominal","legend":null}}},
{"data":{"name":"c"},"transform":[{"filter":"datum.p == 'L' && isValid(datum.b)"}],"mark":{"type":"point","shape":"M-1,0L1,0M0,-1L0,1","size":32,"strokeWidth":1,"filled":false,"opacity":1,"clip":true},
"encoding":{"x":{"field":"x","type":"quantitative","axis":null},"y":{"field":"b","type":"quantitative","axis":null},"color":{"field":"s","type":"nominal","legend":null}}},
{"data":{"name":"r"},"transform":[{"filter":"datum.p == 'L'"}],"mark":{"type":"rule","strokeWidth":1},
"encoding":{"x":{"field":"x","type":"quantitative","axis":null},"y":{"field":"y","type":"quantitative","axis":null},"x2":{"field":"x2"},"y2":{"field":"y2"},"color":{"field":"s","type":"nominal","legend":null}}},
{"data":{"name":"t"},"transform":[{"filter":"datum.p == 'L' && datum.g == 'c'"}],"mark":{"type":"text","align":"center","baseline":"middle","fontSize":12},
"encoding":{"x":{"field":"x","type":"quantitative","axis":null},"y":{"field":"y","type":"quantitative","axis":null},"text":{"field":"t"},"color":{"field":"s","type":"nominal","legend":null}}},
{"data":{"name":"t"},"transform":[{"filter":"datum.p == 'L' && datum.g == 'l'"}],"mark":{"type":"text","align":"left","baseline":"middle","fontSize":12},
"encoding":{"x":{"field":"x","type":"quantitative","axis":null},"y":{"field":"y","type":"quantitative","axis":null},"text":{"field":"t"},"color":{"field":"s","type":"nominal","legend":null}}}
]},
{"width":340,"height":297,
"resolve":{"axis":{"x":"independent","y":"independent"}},
"layer":[
{"data":{"values":[{"x":1000,"y":1}]},"mark":{"type":"point","opacity":0},
"encoding":{"x":{"field":"x","type":"quantitative","scale":{"type":"log","domain":[1000,10000000],"nice":false},"axis":{"orient":"bottom","values":[1000,10000,100000,1000000,10000000],"ticks":false,"labelFlush":false,"labelPadding":8,"labelExpr":"datum.value < 2000 ? '10³' : datum.value < 20000 ? '10⁴' : datum.value < 200000 ? '10⁵' : datum.value < 2000000 ? '10⁶' : '10⁷'","title":"Transfer data size [byte]","titlePadding":2}},
"y":{"field":"y","type":"quantitative","scale":{"type":"log","domain":[0.1,10],"nice":false},"axis":{"orient":"left","values":[0.1,1,10],"ticks":false,"labelPadding":7,"labelExpr":"datum.value < 0.5 ? '0.1' : datum.value < 5 ? '1' : '10'","title":"Server response time [s]","titlePadding":1}}}},
{"data":{"values":[{"x":1000,"y":1}]},"mark":{"type":"point","opacity":0},
"encoding":{"x":{"field":"x","type":"quantitative","scale":{"type":"log","domain":[1000,10000000],"nice":false},"axis":{"orient":"bottom","values":[1000,10000,100000,1000000,10000000],"labels":false,"tickSize":-7,"title":null}},
"y":{"field":"y","type":"quantitative","scale":{"type":"log","domain":[0.1,10],"nice":false},"axis":{"orient":"left","values":[0.1,1,10],"labels":false,"tickSize":-7,"title":null}}}},
{"data":{"values":[{"x":1000,"y":1}]},"mark":{"type":"point","opacity":0},
"encoding":{"x":{"field":"x","type":"quantitative","scale":{"type":"log","domain":[1000,10000000],"nice":false},"axis":{"orient":"bottom","values":[2000,3000,4000,5000,6000,7000,8000,9000,20000,30000,40000,50000,60000,70000,80000,90000,200000,300000,400000,500000,600000,700000,800000,900000,2000000,3000000,4000000,5000000,6000000,7000000,8000000,9000000],"labels":false,"tickSize":-3.5,"title":null}},
"y":{"field":"y","type":"quantitative","scale":{"type":"log","domain":[0.1,10],"nice":false},"axis":{"orient":"left","values":[0.2,0.3,0.4,0.5,0.6,0.7,0.8,0.9,2,3,4,5,6,7,8,9],"labels":false,"tickSize":-3.5,"title":null}}}},
{"data":{"values":[{"x":1000,"y":1}]},"mark":{"type":"point","opacity":0},
"encoding":{"x":{"field":"x","type":"quantitative","scale":{"type":"log","domain":[1000,10000000],"nice":false},"axis":{"orient":"top","values":[1000,10000,100000,1000000,10000000],"labels":false,"tickSize":-7,"title":null}},
"y":{"field":"y","type":"quantitative","scale":{"type":"log","domain":[0.1,10],"nice":false},"axis":{"orient":"right","values":[0.1,1,10],"labels":false,"tickSize":-7,"title":null}}}},
{"data":{"values":[{"x":1000,"y":1}]},"mark":{"type":"point","opacity":0},
"encoding":{"x":{"field":"x","type":"quantitative","scale":{"type":"log","domain":[1000,10000000],"nice":false},"axis":{"orient":"top","values":[2000,3000,4000,5000,6000,7000,8000,9000,20000,30000,40000,50000,60000,70000,80000,90000,200000,300000,400000,500000,600000,700000,800000,900000,2000000,3000000,4000000,5000000,6000000,7000000,8000000,9000000],"labels":false,"tickSize":-3.5,"title":null}},
"y":{"field":"y","type":"quantitative","scale":{"type":"log","domain":[0.1,10],"nice":false},"axis":{"orient":"right","values":[0.2,0.3,0.4,0.5,0.6,0.7,0.8,0.9,2,3,4,5,6,7,8,9],"labels":false,"tickSize":-3.5,"title":null}}}},
{"data":{"name":"m"},"transform":[{"filter":"datum.p == 'R'"}],"mark":{"type":"line","strokeWidth":1.2,"clip":true},
"encoding":{"x":{"field":"x","type":"quantitative","axis":null},"y":{"field":"y","type":"quantitative","axis":null},"color":{"field":"s","type":"nominal","legend":null,"scale":{"domain":["SS","IS10","JS","QS","MS","IS83","LG","LG1","LG2","Q10","Q100","Q1G"],"range":["#000000","#ff0000","#0000ff","#1f9a1f","#7b1f66","#a034d8","#000000","#000000","#000000","#1f9a1f","#1f9a1f","#1f9a1f"]}}}},
{"data":{"name":"c"},"transform":[{"filter":"datum.p == 'R' && isValid(datum.b)"}],"mark":{"type":"line","strokeWidth":1.1,"strokeDash":[5,3],"clip":true},
"encoding":{"x":{"field":"x","type":"quantitative","axis":null},"y":{"field":"b","type":"quantitative","axis":null},"color":{"field":"s","type":"nominal","legend":null}}},
{"data":{"name":"c"},"transform":[{"filter":"datum.p == 'R' && isValid(datum.b)"}],"mark":{"type":"point","shape":"M-1,0L1,0M0,-1L0,1","size":32,"strokeWidth":1,"filled":false,"opacity":1,"clip":true},
"encoding":{"x":{"field":"x","type":"quantitative","axis":null},"y":{"field":"b","type":"quantitative","axis":null},"color":{"field":"s","type":"nominal","legend":null}}},
{"data":{"name":"r"},"transform":[{"filter":"datum.p == 'R'"}],"mark":{"type":"rule","strokeWidth":1},
"encoding":{"x":{"field":"x","type":"quantitative","axis":null},"y":{"field":"y","type":"quantitative","axis":null},"x2":{"field":"x2"},"y2":{"field":"y2"},"color":{"field":"s","type":"nominal","legend":null}}},
{"data":{"name":"ah"},"mark":{"type":"point","shape":"M-0.6,-1.6L0,0L0.6,-1.6","size":49,"strokeWidth":1,"filled":false,"opacity":1},
"encoding":{"x":{"field":"x","type":"quantitative","axis":null},"y":{"field":"y","type":"quantitative","axis":null},"color":{"field":"s","type":"nominal","legend":null}}},
{"data":{"name":"t"},"transform":[{"filter":"datum.p == 'R' && datum.g == 'c'"}],"mark":{"type":"text","align":"center","baseline":"middle","fontSize":12},
"encoding":{"x":{"field":"x","type":"quantitative","axis":null},"y":{"field":"y","type":"quantitative","axis":null},"text":{"field":"t"},"color":{"field":"s","type":"nominal","legend":null}}},
{"data":{"name":"t"},"transform":[{"filter":"datum.p == 'R' && datum.g == 'l'"}],"mark":{"type":"text","align":"left","baseline":"middle","fontSize":12},
"encoding":{"x":{"field":"x","type":"quantitative","axis":null},"y":{"field":"y","type":"quantitative","axis":null},"text":{"field":"t"},"color":{"field":"s","type":"nominal","legend":null}}}
]}
]
}
